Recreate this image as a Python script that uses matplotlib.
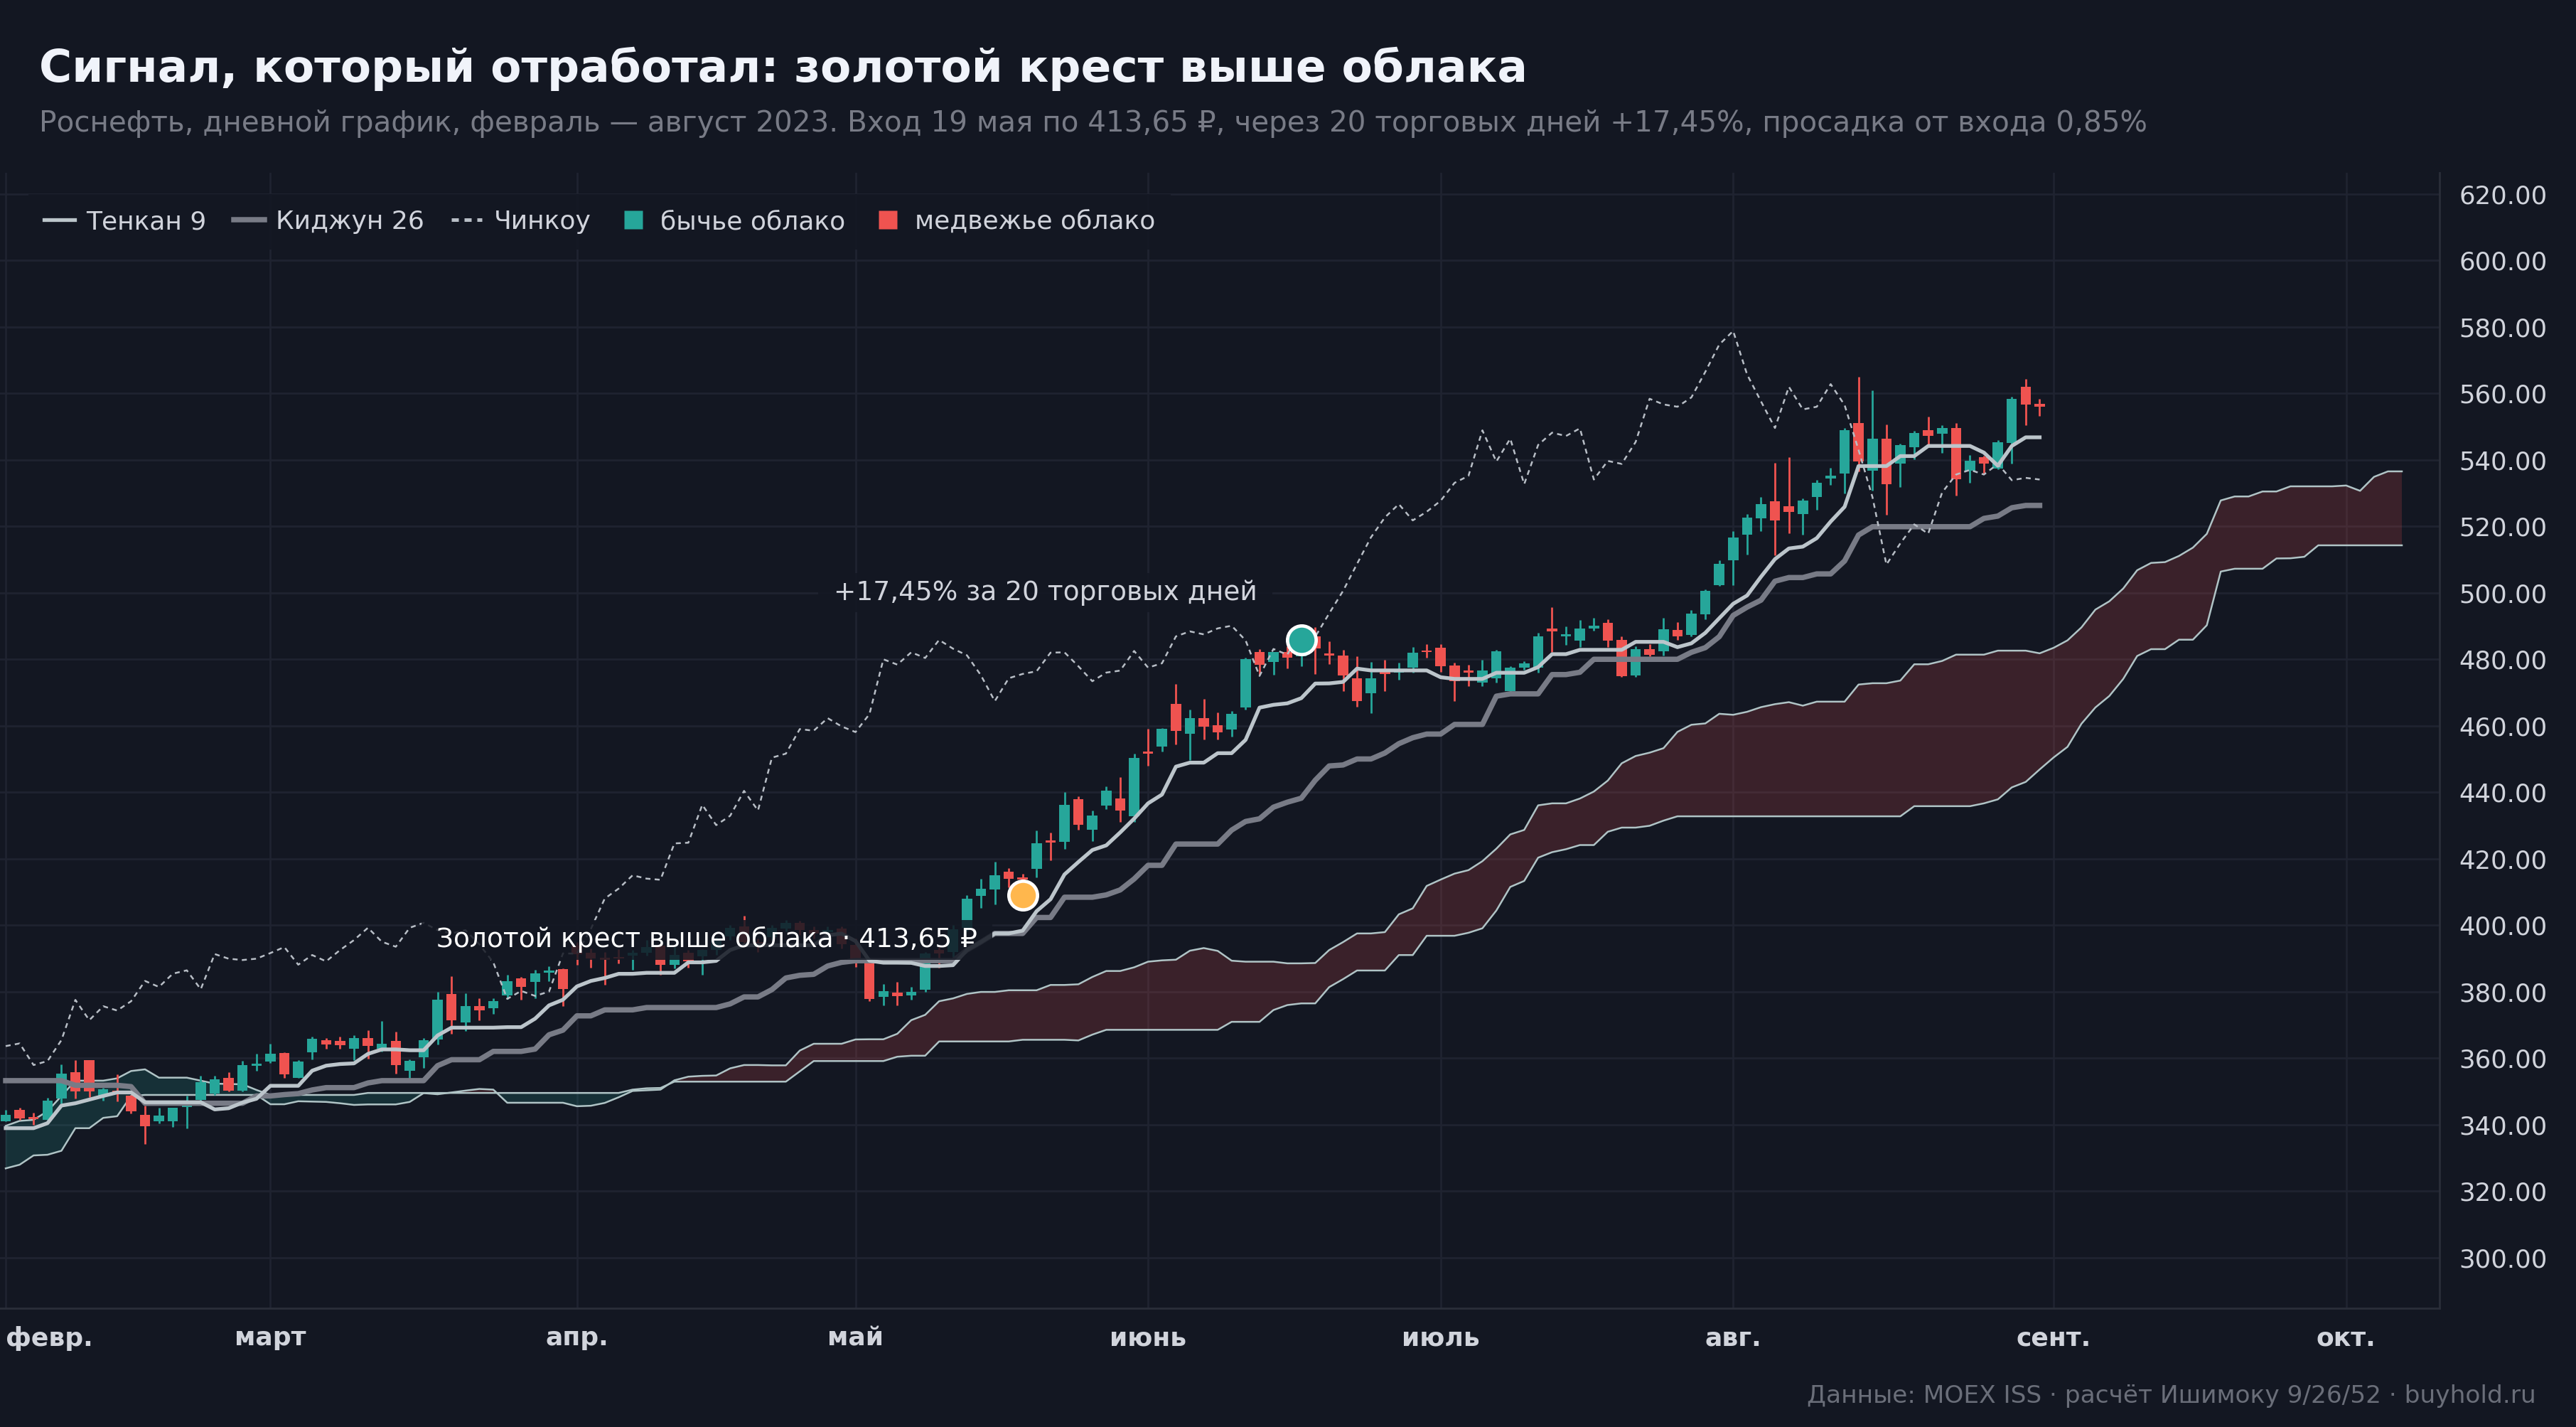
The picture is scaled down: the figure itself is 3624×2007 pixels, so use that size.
import numpy as np
import matplotlib
matplotlib.use("Agg")
import matplotlib.pyplot as plt
from matplotlib.lines import Line2D

# Rosneft daily candles, Feb 1 .. Aug 31 2023 (trading-day index 0..146)
opens = [
    340.9, 344.3, 342.1, 341.4, 347.9, 355.7, 359.3, 348.6, 350.1, 348.6,
    343.0, 340.9, 340.9, 345.2, 347.3, 349.3, 354.1, 350.1, 357.7, 358.9,
    361.6, 354.1, 361.8, 365.4, 365.1, 362.9, 366.1, 362.7, 365.1, 356.1,
    360.2, 365.5, 379.3, 370.8, 375.6, 374.9, 378.8, 384.0, 382.9, 385.6,
    386.8, 393.8, 391.6, 390.2, 390.2, 390.9, 391.6, 393.8, 388.1, 391.6,
    390.6, 392.5, 396.7, 399.5, 395.0, 396.5, 399.0, 400.7, 398.5, 397.8,
    398.9, 394.0, 388.8, 378.4, 379.6, 378.8, 380.6, 392.5, 391.8, 399.2,
    408.9, 410.7, 416.1, 414.3, 417.0, 425.3, 425.1, 438.0, 428.8, 435.9,
    438.1, 432.7, 452.1, 453.7, 466.6, 457.5, 462.3, 460.2, 458.9, 465.5,
    482.2, 479.1, 482.2, 481.0, 486.8, 481.8, 481.2, 474.3, 469.8, 476.1,
    475.9, 477.5, 482.6, 483.4, 478.1, 476.5, 473.1, 474.3, 470.4, 477.4,
    477.5, 489.3, 487.0, 485.7, 489.3, 490.9, 485.9, 475.2, 483.1, 482.4,
    488.8, 487.4, 493.6, 502.4, 509.9, 517.4, 522.5, 527.5, 526.0, 523.6,
    528.9, 534.3, 535.9, 551.0, 536.8, 546.4, 538.8, 543.8, 548.9, 547.9,
    549.5, 536.8, 540.9, 537.4, 545.0, 561.9, 556.9,
]
highs = [
    344.3, 345.0, 343.6, 348.0, 358.2, 359.3, 359.3, 351.0, 355.0, 349.0,
    345.7, 345.0, 345.1, 348.6, 354.6, 354.6, 355.7, 359.1, 361.4, 364.4,
    361.7, 359.4, 366.4, 366.1, 366.4, 366.8, 368.4, 371.1, 367.9, 359.6,
    366.1, 380.0, 384.7, 379.5, 378.1, 377.9, 385.0, 384.5, 386.6, 387.7,
    387.0, 395.0, 393.0, 392.0, 392.7, 392.5, 395.6, 393.8, 393.5, 392.5,
    392.8, 396.5, 400.0, 402.9, 396.0, 400.0, 401.5, 401.4, 399.5, 399.5,
    399.5, 396.0, 390.0, 382.2, 382.9, 381.5, 392.0, 393.5, 400.0, 409.1,
    413.9, 419.1, 417.2, 415.5, 428.4, 427.9, 440.0, 438.7, 434.5, 441.8,
    444.5, 451.7, 459.0, 459.2, 472.5, 464.9, 468.1, 464.0, 464.4, 480.5,
    483.0, 482.3, 483.9, 487.0, 489.6, 485.5, 482.9, 480.9, 479.1, 479.8,
    478.9, 483.7, 484.5, 484.5, 478.9, 478.4, 479.9, 482.9, 478.0, 479.4,
    487.9, 495.7, 490.0, 491.9, 492.5, 492.1, 486.8, 483.9, 484.6, 492.4,
    491.2, 494.8, 501.1, 509.9, 518.6, 523.6, 528.8, 539.1, 540.8, 528.4,
    533.9, 537.7, 549.5, 564.9, 560.9, 550.7, 544.8, 548.7, 553.0, 550.5,
    551.0, 541.4, 541.3, 545.9, 559.1, 564.3, 558.3,
]
lows = [
    340.9, 341.4, 340.0, 341.4, 346.4, 347.9, 348.2, 347.1, 347.0, 343.4,
    334.1, 340.4, 339.3, 338.9, 346.0, 349.0, 350.0, 350.0, 356.1, 358.6,
    354.1, 354.1, 359.6, 362.7, 362.7, 359.3, 359.9, 362.0, 355.4, 353.6,
    357.1, 364.0, 367.4, 368.1, 371.4, 373.2, 377.7, 377.5, 377.9, 383.1,
    375.7, 388.0, 387.1, 382.0, 388.4, 386.6, 390.9, 385.0, 387.0, 387.1,
    385.0, 391.0, 395.5, 394.0, 392.0, 395.5, 398.0, 397.0, 396.0, 396.5,
    393.0, 387.5, 377.1, 375.9, 375.9, 377.6, 380.0, 387.2, 390.5, 398.0,
    405.2, 406.2, 411.3, 412.4, 414.3, 419.4, 422.9, 428.6, 425.3, 434.9,
    431.0, 431.0, 447.9, 452.2, 454.4, 449.6, 455.8, 455.9, 456.8, 464.8,
    475.4, 475.4, 477.3, 477.9, 475.5, 478.6, 470.4, 465.7, 463.7, 470.4,
    473.9, 476.0, 480.5, 476.2, 467.4, 472.0, 472.0, 473.0, 470.0, 476.8,
    476.0, 482.1, 484.3, 483.8, 488.6, 483.6, 474.8, 474.8, 480.9, 481.2,
    485.9, 487.0, 492.1, 502.1, 502.3, 511.5, 518.5, 511.4, 518.0, 517.4,
    525.0, 532.4, 530.0, 536.6, 530.8, 523.5, 531.8, 540.1, 544.5, 542.1,
    529.3, 533.1, 535.9, 537.1, 538.9, 550.5, 553.2,
]
closes = [
    343.0, 341.8, 341.6, 347.1, 355.4, 349.9, 350.0, 350.7, 349.3, 343.9,
    339.4, 342.6, 345.1, 345.5, 352.7, 353.7, 350.1, 357.9, 358.4, 361.4,
    355.0, 358.9, 365.9, 364.1, 363.9, 366.1, 363.6, 364.4, 357.9, 359.1,
    365.4, 377.5, 371.4, 375.6, 374.3, 377.1, 383.2, 381.4, 385.4, 386.4,
    380.7, 391.3, 389.9, 389.5, 389.9, 391.6, 393.4, 388.1, 391.0, 389.1,
    392.5, 395.5, 399.2, 395.0, 393.5, 399.2, 400.7, 398.5, 397.5, 398.5,
    394.2, 388.8, 377.8, 380.2, 378.7, 380.0, 391.5, 391.4, 398.8, 408.0,
    411.0, 415.0, 414.0, 413.65, 424.6, 424.8, 436.2, 430.1, 432.9, 440.4,
    434.5, 450.4, 451.6, 459.0, 458.5, 462.3, 459.8, 458.1, 463.5, 480.0,
    478.4, 482.1, 480.4, 485.83, 483.2, 481.2, 475.2, 467.4, 474.3, 475.6,
    476.4, 482.0, 482.1, 477.9, 473.4, 476.0, 476.6, 482.5, 477.5, 478.8,
    486.9, 488.4, 487.5, 489.3, 490.1, 485.7, 475.0, 483.1, 481.4, 489.1,
    486.8, 493.8, 500.6, 508.7, 516.7, 522.7, 526.7, 521.8, 524.4, 527.7,
    533.1, 535.2, 548.9, 539.5, 546.4, 532.7, 544.5, 548.2, 547.2, 549.5,
    534.1, 539.7, 538.8, 545.4, 558.4, 556.7, 556.0,
]

tenkan = [
    338.9, 338.9, 338.9, 340.4, 345.7, 346.4, 347.5, 348.6, 349.65, 349.65,
    346.7, 346.7, 346.7, 346.7, 346.7, 344.55, 344.9, 346.6, 347.75, 351.65,
    351.65, 351.65, 356.2, 357.7, 358.2, 358.4, 361.25, 362.6, 362.6, 362.35,
    362.35, 366.8, 369.15, 369.15, 369.15, 369.15, 369.3, 369.3, 371.85, 375.85,
    377.55, 381.55, 383.2, 384.1, 385.35, 385.35, 385.65, 385.65, 385.65, 388.8,
    388.8, 389.25, 392.5, 393.95, 393.95, 393.95, 393.95, 393.95, 393.95, 396.95,
    397.45, 395.2, 389.3, 388.7, 388.7, 388.65, 387.7, 387.7, 387.95, 392.5,
    394.9, 397.5, 397.5, 398.35, 404.2, 407.8, 415.25, 419.0, 422.6, 424.0,
    427.9, 432.05, 436.65, 439.3, 447.7, 448.9, 448.9, 451.75, 451.75, 455.75,
    465.45, 466.3, 466.75, 468.3, 472.7, 472.75, 473.2, 477.2, 476.65, 476.65,
    476.65, 476.65, 476.65, 474.6, 474.1, 474.1, 474.1, 475.95, 475.95, 475.95,
    477.65, 481.55, 481.55, 482.85, 482.85, 482.85, 482.85, 485.25, 485.25, 485.25,
    483.65, 484.8, 487.95, 492.35, 496.7, 499.2, 504.85, 510.15, 513.35, 513.9,
    516.45, 521.45, 525.9, 538.15, 538.15, 538.15, 541.15, 541.15, 544.2, 544.2,
    544.2, 544.2, 542.2, 538.25, 544.2, 546.8, 546.8,
]
kijun = [
    353.2, 353.2, 353.2, 353.2, 353.2, 351.8, 351.8, 351.8, 351.8, 351.4,
    346.4, 346.4, 346.4, 346.4, 346.4, 346.4, 346.4, 346.4, 348.6, 348.6,
    349.0, 349.3, 350.4, 351.1, 351.1, 351.1, 352.5, 353.2, 353.2, 353.2,
    353.2, 357.7, 359.5, 359.5, 359.5, 362.0, 362.0, 362.0, 362.7, 367.0,
    368.4, 372.7, 372.7, 374.5, 374.5, 374.5, 375.2, 375.2, 375.2, 375.2,
    375.2, 375.2, 376.3, 378.4, 378.4, 380.6, 384.1, 384.9, 385.2, 387.7,
    388.8, 389.3, 389.3, 389.3, 389.3, 389.3, 389.3, 389.3, 389.3, 392.5,
    394.9, 397.5, 397.5, 397.5, 402.3, 402.3, 408.4, 408.4, 408.4, 409.1,
    410.6, 413.9, 418.0, 418.0, 424.4, 424.4, 424.4, 424.4, 428.6, 431.2,
    432.0, 435.5, 437.0, 438.2, 443.6, 447.9, 448.2, 450.0, 450.0, 451.8,
    454.6, 456.4, 457.5, 457.5, 460.4, 460.4, 460.4, 468.9, 469.6, 469.6,
    469.6, 475.4, 475.4, 476.1, 480.0, 480.0, 480.0, 480.0, 480.0, 480.0,
    480.0, 482.1, 483.5, 486.8, 493.2, 495.7, 497.8, 503.5, 504.6, 504.6,
    505.7, 505.7, 509.6, 517.4, 519.9, 519.9, 519.9, 519.9, 519.9, 519.9,
    519.9, 519.9, 522.4, 523.1, 525.6, 526.3, 526.3,
]
# cloud runs 26 sessions past the last candle (index 0..172)
span_a = [
    326.8, 327.9, 330.7, 330.9, 332.1, 338.9, 338.9, 342.0, 342.5, 348.6,
    348.9, 348.9, 348.9, 348.9, 348.9, 348.9, 348.9, 348.9, 348.9, 346.1,
    346.1, 347.0, 346.9, 346.8, 346.4, 345.9, 346.05, 346.05, 346.05, 346.8,
    349.45, 349.1, 349.65, 350.2, 350.7, 350.5, 346.55, 346.55, 346.55, 346.55,
    346.55, 345.5, 345.65, 346.5, 348.2, 350.1, 350.3, 350.5, 353.3, 354.4,
    354.65, 354.75, 356.9, 357.9, 357.9, 357.8, 357.8, 362.25, 364.3, 364.3,
    364.3, 365.6, 365.65, 365.65, 367.3, 371.4, 373.0, 377.1, 377.95, 379.3,
    379.9, 379.9, 380.4, 380.4, 380.4, 382.0, 382.0, 382.2, 384.4, 386.2,
    386.2, 387.3, 389.0, 389.4, 389.6, 392.3, 393.1, 392.25, 389.3, 389.0,
    389.0, 389.0, 388.5, 388.5, 388.6, 392.5, 394.9, 397.5, 397.5, 397.9,
    403.25, 405.05, 411.8, 413.7, 415.5, 416.55, 419.25, 423.0, 427.3, 428.65,
    436.05, 436.65, 436.65, 438.1, 440.2, 443.5, 448.7, 450.9, 451.9, 453.25,
    458.15, 460.3, 460.7, 463.6, 463.3, 464.2, 465.6, 466.5, 467.1, 466.05,
    467.25, 467.25, 467.25, 472.4, 472.8, 472.8, 473.6, 478.5, 478.5, 479.5,
    481.4, 481.4, 481.4, 482.6, 482.6, 482.6, 481.8, 483.45, 485.7, 489.6,
    494.95, 497.45, 501.3, 506.8, 509.0, 509.25, 511.1, 513.6, 517.75, 527.8,
    529.0, 529.0, 530.5, 530.5, 532.05, 532.05, 532.05, 532.05, 532.3, 530.7,
    534.9, 536.55, 536.55,
]
span_b = [
    339.6, 341.1, 341.4, 344.0, 348.6, 353.2, 353.2, 353.2, 353.9, 356.1,
    356.6, 354.1, 354.1, 354.1, 353.2, 352.3, 352.2, 352.1, 350.4, 348.9,
    348.9, 348.9, 348.9, 348.9, 348.9, 348.9, 349.5, 349.5, 349.5, 349.5,
    349.5, 349.5, 349.5, 349.5, 349.5, 349.5, 349.5, 349.5, 349.5, 349.5,
    349.5, 349.5, 349.5, 349.5, 349.5, 350.5, 350.9, 351.0, 352.9, 352.9,
    352.9, 352.9, 352.9, 352.9, 352.9, 352.9, 352.9, 356.0, 359.1, 359.1,
    359.1, 359.1, 359.1, 359.1, 360.4, 360.7, 360.7, 365.0, 365.0, 365.0,
    365.0, 365.0, 365.0, 365.5, 365.5, 365.5, 365.5, 365.3, 367.05, 368.5,
    368.5, 368.5, 368.5, 368.5, 368.5, 368.5, 368.5, 368.5, 370.9, 370.9,
    370.9, 374.45, 375.95, 376.45, 376.45, 381.35, 383.75, 386.35, 386.35, 386.35,
    391.0, 391.0, 396.8, 396.8, 396.8, 397.7, 399.05, 404.4, 411.5, 413.3,
    420.3, 421.95, 422.85, 424.1, 424.1, 428.1, 429.35, 429.35, 429.9, 431.45,
    432.75, 432.75, 432.75, 432.75, 432.75, 432.75, 432.75, 432.75, 432.75, 432.75,
    432.75, 432.75, 432.75, 432.75, 432.75, 432.75, 432.75, 435.8, 435.8, 435.8,
    435.8, 435.8, 436.65, 437.85, 441.45, 443.1, 446.85, 450.45, 453.65, 460.6,
    465.5, 468.95, 474.1, 481.0, 483.05, 483.05, 485.9, 485.9, 490.25, 506.4,
    507.25, 507.25, 507.25, 510.35, 510.4, 510.85, 514.3, 514.3, 514.3, 514.3,
    514.3, 514.3, 514.3,
]
chikou = [
    363.6, 364.4, 357.9, 359.1, 365.4, 377.5, 371.4, 375.6, 374.3, 377.1,
    383.2, 381.4, 385.4, 386.4, 380.7, 391.3, 389.9, 389.5, 389.9, 391.6,
    393.4, 388.1, 391.0, 389.1, 392.5, 395.5, 399.2, 395.0, 393.5, 399.2,
    400.7, 398.5, 397.5, 398.5, 394.2, 388.8, 377.8, 380.2, 378.7, 380.0,
    391.5, 391.4, 398.8, 408.0, 411.0, 415.0, 414.0, 413.65, 424.6, 424.8,
    436.2, 430.1, 432.9, 440.4, 434.5, 450.4, 451.6, 459.0, 458.5, 462.3,
    459.8, 458.1, 463.5, 480.0, 478.4, 482.1, 480.4, 485.83, 483.2, 481.2,
    475.2, 467.4, 474.3, 475.6, 476.4, 482.0, 482.1, 477.9, 473.4, 476.0,
    476.6, 482.5, 477.5, 478.8, 486.9, 488.4, 487.5, 489.3, 490.1, 485.7,
    475.0, 483.1, 481.4, 489.1, 486.8, 493.8, 500.6, 508.7, 516.7, 522.7,
    526.7, 521.8, 524.4, 527.7, 533.1, 535.2, 548.9, 539.5, 546.4, 532.7,
    544.5, 548.2, 547.2, 549.5, 534.1, 539.7, 538.8, 545.4, 558.4, 556.7,
    556.0, 558.8, 566.5, 574.7, 578.8, 565.7, 557.6, 549.6, 562.0, 555.2,
    556.0, 562.8, 556.5, 543.0, 528.8, 508.5, 514.9, 520.6, 517.8, 530.2,
    535.6, 537.0, 535.6, 538.8, 533.9, 534.6, 534.1,
]

month_idx = [0, 19, 41, 61, 82, 103, 124, 147, 168]
month_labels = ["февр.", "март", "апр.", "май", "июнь", "июль", "авг.", "сент.", "окт."]

entry_idx, entry_mark = 73, 409.0      # 19 May, entry 413,65
exit_idx, exit_price = 93, 485.83       # +20 sessions

BG = "#131722"
GRID = "#1f2330"
TEAL = "#26a69a"
RED = "#ef5350"
TXT = "#d1d4dc"

plt.rcParams["font.family"] = ["DejaVu Sans"]

fig = plt.figure(figsize=(18.12, 10.035), dpi=200, facecolor=BG)
ax = fig.add_axes([0.0, 0.0832, 0.947, 0.7957], facecolor=BG)

x = np.arange(len(closes))
xc = np.arange(len(span_a))
sa = np.array(span_a)
sb = np.array(span_b)

# cloud
ax.fill_between(xc, sa, sb, where=sb >= sa, interpolate=True, color=TEAL, alpha=0.18, lw=0, zorder=1)
ax.fill_between(xc, sa, sb, where=sb < sa, interpolate=True, color=RED, alpha=0.18, lw=0, zorder=1)
ax.plot(xc, sa, color="#b0c4c6", lw=0.9, zorder=2)
ax.plot(xc, sb, color="#b0c4c6", lw=0.9, zorder=2)

# candles
o, h, l, c = map(np.array, (opens, highs, lows, closes))
cols = np.where(c >= o, TEAL, RED)
ax.vlines(x, l, h, colors=cols, lw=1.0, zorder=3)
ax.bar(x, np.maximum(np.abs(c - o), 0.6), bottom=np.minimum(o, c), width=0.74,
       color=cols, lw=0, zorder=3)

ax.plot(x, kijun, color="#787b86", lw=2.7, zorder=4)
ax.plot(x, tenkan, color="#bcc5cb", lw=1.9, zorder=5)
ax.plot(np.arange(len(chikou)), chikou, color="#b8bec6", lw=0.9, ls=(0, (2.8, 2.4)), zorder=6)

ax.plot(entry_idx, entry_mark, "o", ms=14.5, mfc="#ffb74d", mec="white", mew=1.7, zorder=8)
ax.plot(exit_idx, exit_price, "o", ms=14.5, mfc=TEAL, mec="white", mew=1.7, zorder=8)

box = dict(boxstyle="square,pad=0.25", fc=BG, ec="none", alpha=0.85)
ax.annotate(" Золотой крест выше облака · 413,65 ₽ ", xy=(entry_idx, entry_mark),
            xytext=(-18.6, -22.5), textcoords="offset points", ha="right", va="center",
            fontsize=13.5, color="#ffffff", bbox=box, zorder=9)
ax.annotate(" +17,45% за 20 торговых дней ", xy=(exit_idx, exit_price),
            xytext=(-18.2, 24), textcoords="offset points", ha="right", va="center",
            fontsize=13.5, color=TXT, bbox=box, zorder=9)

ax.set_xlim(-0.41, 174.7)
ax.set_ylim(284.7, 626.4)

ax.set_xticks(month_idx)
ax.set_xticklabels(month_labels, fontsize=13, fontweight="bold", color=TXT)
ax.get_xticklabels()[0].set_ha("left")
ax.tick_params(axis="x", length=0, pad=9)

yt = np.arange(300, 621, 20)
ax.yaxis.tick_right()
ax.set_yticks(yt)
ax.set_yticklabels([f"{v:.2f}" for v in yt], fontsize=12.8, color=TXT)
ax.tick_params(axis="y", length=0, pad=10)

ax.grid(True, color=GRID, lw=1.0)
ax.set_axisbelow(True)
for s in ("top", "left"):
    ax.spines[s].set_visible(False)
for s in ("right", "bottom"):
    ax.spines[s].set_color("#2a2e39")
    ax.spines[s].set_linewidth(1.0)

handles = [
    Line2D([0], [0], color="#bcc5cb", lw=1.9),
    Line2D([0], [0], color="#787b86", lw=2.7),
    Line2D([0], [0], color="#b8bec6", lw=1.8, ls=(0, (2, 1.6))),
    Line2D([0], [0], ls="none", marker="s", ms=9.5, mfc=TEAL, mec="none"),
    Line2D([0], [0], ls="none", marker="s", ms=9.5, mfc=RED, mec="none"),
]
leg = ax.legend(handles, ["Тенкан 9", "Киджун 26", "Чинкоу", "бычье облако", "медвежье облако"],
                loc="upper left", bbox_to_anchor=(0.0117, 0.981), borderaxespad=0, ncol=5,
                fontsize=13, frameon=True, fancybox=False, facecolor=BG, edgecolor="none",
                framealpha=0.85, handlelength=1.2, handletextpad=0.45, columnspacing=1.05,
                borderpad=0.6)
for t in leg.get_texts():
    t.set_color(TXT)
leg.set_zorder(10)

fig.text(0.0153, 0.9427, "Сигнал, который отработал: золотой крест выше облака",
         fontsize=22.7, fontweight="bold", color="#f0f3fa", va="baseline")
fig.text(0.0153, 0.9078,
         "Роснефть, дневной график, февраль — август 2023. Вход 19 мая по 413,65 ₽, "
         "через 20 торговых дней +17,45%, просадка от входа 0,85%",
         fontsize=14.6, color="#787b86", va="baseline")
fig.text(0.9846, 0.0171, "Данные: MOEX ISS · расчёт Ишимоку 9/26/52 · buyhold.ru",
         fontsize=12.4, color="#6a6e79", ha="right", va="baseline")

fig.savefig("out.png", dpi=200, facecolor=BG)
